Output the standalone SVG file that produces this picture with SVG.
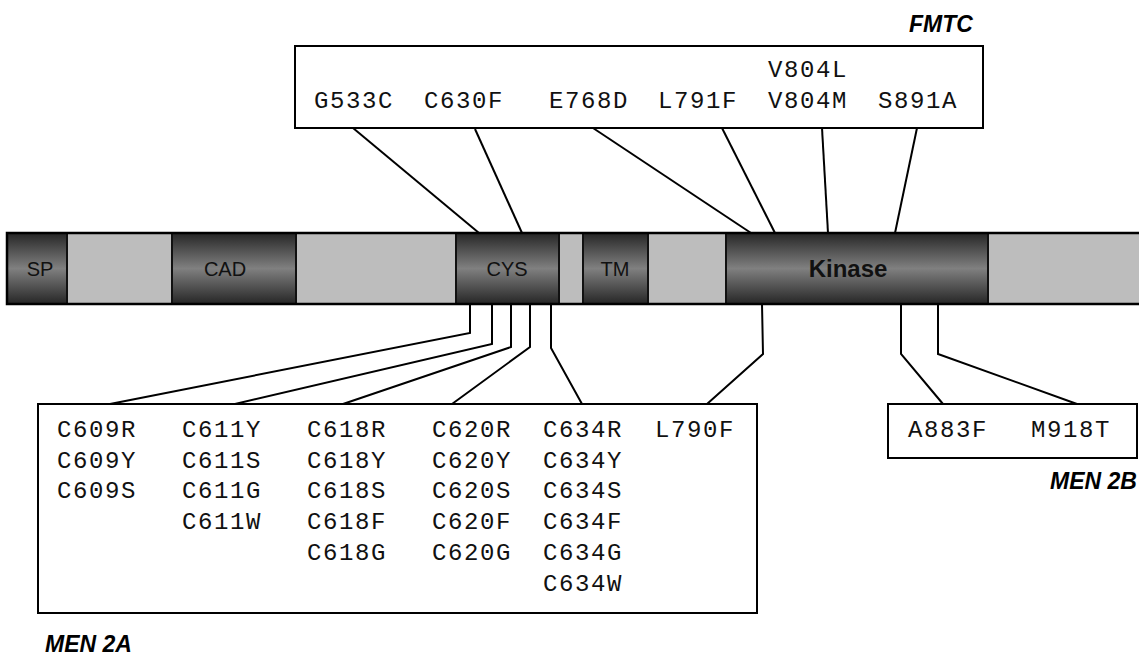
<svg xmlns="http://www.w3.org/2000/svg" width="1139" height="656" viewBox="0 0 1139 656">
<style>
.dom{stroke:#111;stroke-width:2}
.dark{fill:url(#g)}
.light{fill:#bdbdbd}
.lbl{font-family:"Liberation Sans",Arial,sans-serif;font-size:20px;fill:#111;text-anchor:middle}
.mut{font-family:"Liberation Mono","Courier New",monospace;font-size:24px;letter-spacing:1.6px;fill:#111}
.grp{font-family:"Liberation Sans",Arial,sans-serif;font-size:23px;font-weight:bold;font-style:italic;fill:#000}
.box{fill:#fff;stroke:#000;stroke-width:2}
.con{fill:none;stroke:#000;stroke-width:2;stroke-linejoin:miter}
</style>
<defs>
<linearGradient id="g" x1="0" y1="0" x2="0" y2="1">
<stop offset="0" stop-color="#262626"/>
<stop offset="0.5" stop-color="#808080"/>
<stop offset="1" stop-color="#262626"/>
</linearGradient>
</defs>
<rect width="1139" height="656" fill="#fff"/>
<g id="connectors">
<line class="con" x1="353" y1="128" x2="479" y2="233"/>
<line class="con" x1="475" y1="129" x2="522" y2="233"/>
<line class="con" x1="593" y1="128" x2="751" y2="233"/>
<line class="con" x1="722" y1="128" x2="775" y2="233"/>
<line class="con" x1="822" y1="128" x2="828" y2="233"/>
<line class="con" x1="917" y1="128" x2="895" y2="233"/>
<polyline class="con" points="470,304 470,333 110,404"/>
<polyline class="con" points="492,304 492,344 235,404"/>
<polyline class="con" points="511,304 511,347 343,404"/>
<polyline class="con" points="530,304 530,347 452,404"/>
<polyline class="con" points="551,304 551,348 582,404"/>
<polyline class="con" points="762,304 763,354 707,404"/>
<polyline class="con" points="901,304 901,354 943,404"/>
<polyline class="con" points="938,304 938,354 1077,404"/>
</g>
<g id="protein">
<rect class="dom dark" x="7" y="233" width="60" height="71"/>
<rect class="dom light" x="67" y="233" width="105" height="71"/>
<rect class="dom dark" x="172" y="233" width="124" height="71"/>
<rect class="dom light" x="296" y="233" width="160" height="71"/>
<rect class="dom dark" x="456" y="233" width="103" height="71"/>
<rect class="dom light" x="559" y="233" width="24" height="71"/>
<rect class="dom dark" x="583" y="233" width="65" height="71"/>
<rect class="dom light" x="648" y="233" width="78" height="71"/>
<rect class="dom dark" x="726" y="233" width="262" height="71"/>
<rect class="dom light" x="988" y="233" width="160" height="71"/>
<rect x="7" y="233" width="1140" height="71" fill="none" stroke="#000" stroke-width="2.5"/>
<text class="lbl" x="40" y="276">SP</text>
<text class="lbl" x="225" y="276">CAD</text>
<text class="lbl" x="507" y="276">CYS</text>
<text class="lbl" x="615" y="276">TM</text>
<text class="lbl" x="848" y="277" style="font-size:24px;font-weight:bold">Kinase</text>
</g>
<g id="fmtc">
<rect class="box" x="295" y="46" width="688" height="82"/>
<text class="mut" x="314" y="108">G533C</text>
<text class="mut" x="424" y="108">C630F</text>
<text class="mut" x="549" y="108">E768D</text>
<text class="mut" x="658" y="108">L791F</text>
<text class="mut" x="768" y="77">V804L</text>
<text class="mut" x="768" y="108">V804M</text>
<text class="mut" x="878" y="108">S891A</text>
<text class="grp" x="909" y="32">FMTC</text>
</g>
<g id="men2a">
<rect class="box" x="38" y="404" width="719" height="209"/>
<g class="mut">
<text x="57" y="437">C609R</text>
<text x="57" y="468">C609Y</text>
<text x="57" y="498">C609S</text>
<text x="182" y="437">C611Y</text>
<text x="182" y="468">C611S</text>
<text x="182" y="498">C611G</text>
<text x="182" y="529">C611W</text>
<text x="307" y="437">C618R</text>
<text x="307" y="468">C618Y</text>
<text x="307" y="498">C618S</text>
<text x="307" y="529">C618F</text>
<text x="307" y="560">C618G</text>
<text x="432" y="437">C620R</text>
<text x="432" y="468">C620Y</text>
<text x="432" y="498">C620S</text>
<text x="432" y="529">C620F</text>
<text x="432" y="560">C620G</text>
<text x="543" y="437">C634R</text>
<text x="543" y="468">C634Y</text>
<text x="543" y="498">C634S</text>
<text x="543" y="529">C634F</text>
<text x="543" y="560">C634G</text>
<text x="543" y="591">C634W</text>
<text x="655" y="437">L790F</text>
</g>
<text class="grp" x="45" y="652">MEN 2A</text>
</g>
<g id="men2b">
<rect class="box" x="888" y="404" width="249" height="54"/>
<text class="mut" x="908" y="437">A883F</text>
<text class="mut" x="1031" y="437">M918T</text>
<text class="grp" x="1050" y="489">MEN 2B</text>
</g>
</svg>
